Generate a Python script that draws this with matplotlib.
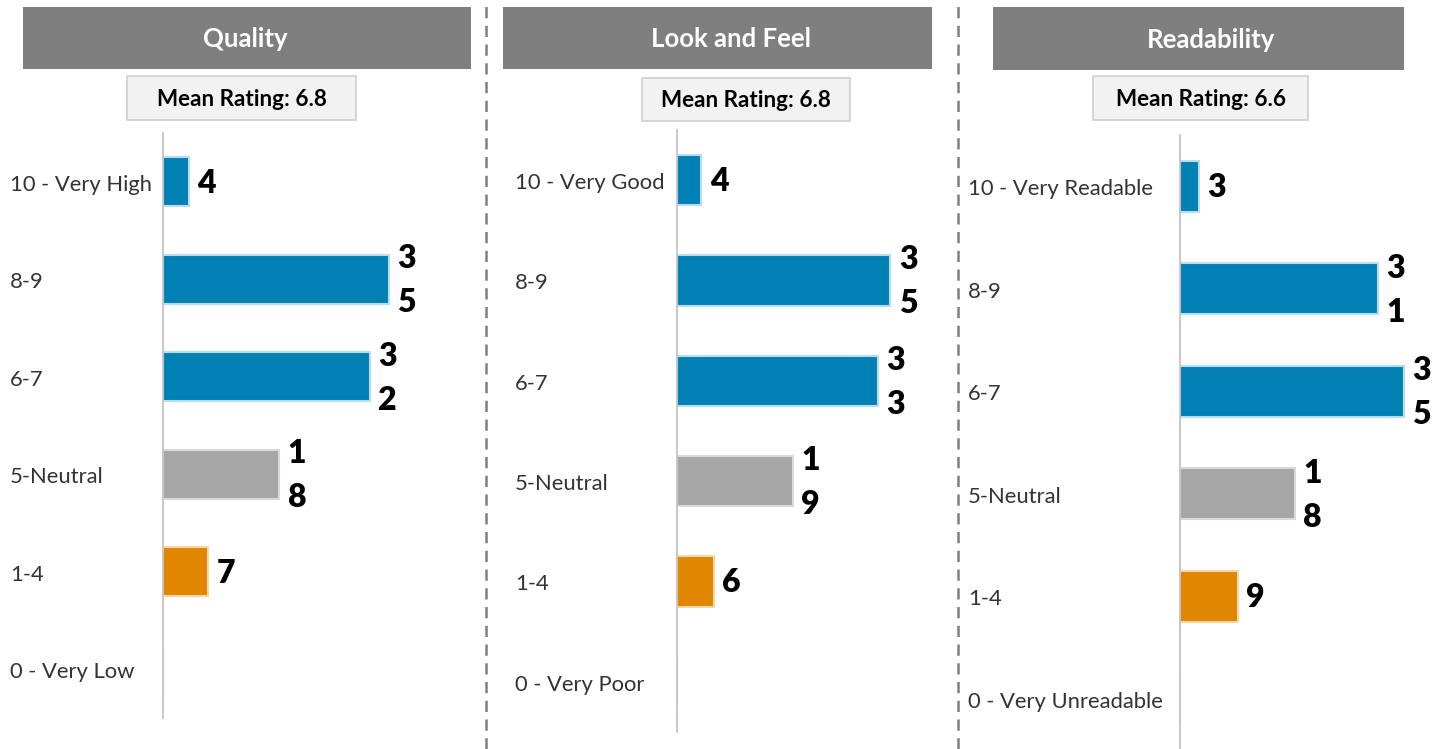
import matplotlib
matplotlib.use("Agg")
import matplotlib.pyplot as plt
from matplotlib.patches import Rectangle
from matplotlib.lines import Line2D
from matplotlib.transforms import blended_transform_factory, offset_copy

plt.rcParams["font.family"] = ["Lato", "DejaVu Sans"]

# ---- data -------------------------------------------------------------
panel_titles = ["Quality", "Look and Feel", "Readability"]
mean_ratings = [6.8, 6.8, 6.6]

quality_labels = ["10 - Very High", "8-9", "6-7", "5-Neutral", "1-4", "0 - Very Low"]
look_labels = ["10 - Very Good", "8-9", "6-7", "5-Neutral", "1-4", "0 - Very Poor"]
readability_labels = ["10 - Very Readable", "8-9", "6-7", "5-Neutral", "1-4",
                      "0 - Very Unreadable"]

quality_counts = [4, 35, 32, 18, 7, 0]
look_counts = [4, 35, 33, 19, 6, 0]
readability_counts = [3, 31, 35, 18, 9, 0]

# colour group of each rating band: top bands blue, neutral grey, low orange
band_groups = ["pos", "pos", "pos", "neu", "neg", "neg"]

# ---- styling ----------------------------------------------------------
W, H = 1434, 749
fill = {"pos": "#0080b3", "neu": "#a6a6a6", "neg": "#e08600"}
edge = {"pos": "#b9dcee", "neu": "#d9d9d9", "neg": "#f6d6a4"}

# layout of each panel in pixels
layout = [
    dict(header=(23, 7, 471, 69), title_x=245, box=(127, 76, 356, 120),
         axis_x=163, axis_top=133, axis_bottom=718, ppu=6.46, label_x=10),
    dict(header=(503, 7, 932, 69), title_x=731, box=(642, 78, 850, 121),
         axis_x=677, axis_top=130, axis_bottom=732, ppu=6.10, label_x=515),
    dict(header=(993, 7, 1404, 70), title_x=1211, box=(1093, 76, 1308, 120),
         axis_x=1180, axis_top=135, axis_bottom=750, ppu=6.39, label_x=968),
]
separators_x = [486, 958]

fig = plt.figure(figsize=(W / 100, H / 100), dpi=100)
fig.patch.set_facecolor("white")


def fx(x):
    return x / W


def fy(y):
    return 1 - y / H


panels = [
    (quality_labels, quality_counts),
    (look_labels, look_counts),
    (readability_labels, readability_counts),
]

for title, mean, (labels, counts), lay in zip(panel_titles, mean_ratings, panels, layout):
    # title banner
    x0, y0, x1, y1 = lay["header"]
    fig.add_artist(Rectangle((fx(x0), fy(y1)), fx(x1) - fx(x0), fy(y0) - fy(y1),
                             transform=fig.transFigure, facecolor="#7f7f7f",
                             edgecolor="none"))
    fig.text(fx(lay["title_x"]), fy((y0 + y1) / 2 + 1), title, color="white",
             fontsize=18.5, fontweight="bold", ha="center", va="center")

    # mean rating box
    x0, y0, x1, y1 = lay["box"]
    fig.add_artist(Rectangle((fx(x0), fy(y1)), fx(x1) - fx(x0), fy(y0) - fy(y1),
                             transform=fig.transFigure, facecolor="#f2f2f2",
                             edgecolor="#cfcfcf", linewidth=1.2))
    fig.text(fx((x0 + x1) / 2), fy((y0 + y1) / 2 + 1), f"Mean Rating: {mean}",
             color="black", fontsize=16.2, fontweight="bold", ha="center",
             va="center")

    # bar axes
    ax_w = 300
    top, bottom = lay["axis_top"], lay["axis_bottom"]
    ax = fig.add_axes([fx(lay["axis_x"]), fy(bottom), ax_w / W, (bottom - top) / H])
    ax.set_xlim(0, ax_w / lay["ppu"])
    n = len(counts)
    ax.set_ylim(n - 0.5, -0.5)
    ypos = list(range(n))
    ax.barh(ypos, counts, height=0.5,
            color=[fill[g] for g in band_groups],
            edgecolor=[edge[g] for g in band_groups], linewidth=1.5, zorder=2)

    for side in ("top", "right", "bottom"):
        ax.spines[side].set_visible(False)
    ax.spines["left"].set_color("#bfbfbf")
    ax.spines["left"].set_linewidth(1.2)
    ax.set_xticks([])
    ax.set_yticks([])
    ax.patch.set_alpha(0)

    # category labels, left aligned at a fixed figure position
    lab_tr = blended_transform_factory(fig.transFigure, ax.transData)
    for y, lab in zip(ypos, labels):
        tr = offset_copy(lab_tr, fig=fig, x=0, y=-2, units="points")
        ax.text(fx(lay["label_x"]), y, lab, transform=tr, ha="left",
                va="center", fontsize=15.8, color="#333333", clip_on=False)

    # value labels: digits stacked one per line next to the bar end
    half_pitch = 22 * 0.72  # points from bar centre to each stacked digit
    for y, v in zip(ypos, counts):
        if v == 0:
            continue
        digits = str(v)
        k = len(digits)
        for i, ch in enumerate(digits):
            dy = ((k - 1) / 2 - i) * 2 * half_pitch
            tr = offset_copy(ax.transData, fig=fig, x=6, y=dy - 1, units="points")
            ax.text(v, y, ch, transform=tr, ha="left", va="center",
                    fontsize=23, fontweight="heavy", color="black",
                    clip_on=False)

# dashed separators between panels
for sx in separators_x:
    fig.add_artist(Line2D([fx(sx), fx(sx)], [0, 1], transform=fig.transFigure,
                          color="#7f7f7f", linewidth=1.8,
                          linestyle=(0, (4.5, 3.0))))

fig.savefig("out.png", dpi=100, facecolor="white")
